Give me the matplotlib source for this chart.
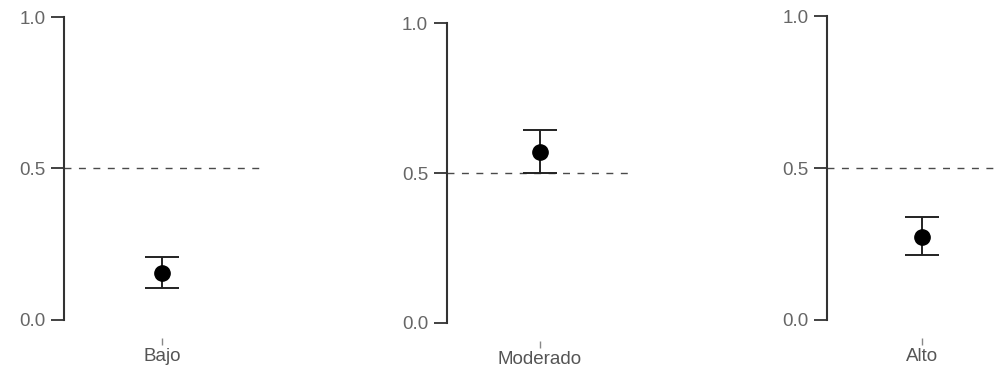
import matplotlib
matplotlib.use("Agg")
import matplotlib.pyplot as plt

categories = ["Bajo", "Moderado", "Alto"]
means = [0.154, 0.570, 0.273]
lower = [0.106, 0.500, 0.214]
upper = [0.209, 0.643, 0.339]
yticks = [0.0, 0.5, 1.0]
ytick_labels = ["0.0", "0.5", "1.0"]
chance = 0.5

# panel rectangles in figure fractions (left, bottom, width, height)
rects = [
    (0.0642, 0.0938, 0.1966, 0.8606),
    (0.4483, 0.0858, 0.1866, 0.8525),
    (0.8295, 0.0933, 0.1906, 0.8630),
]

plt.rcParams["font.family"] = ["Liberation Sans", "DejaVu Sans"]

fig = plt.figure(figsize=(9.97, 3.73), dpi=100)

for i, cat in enumerate(categories):
    ax = fig.add_axes(rects[i])
    ax.axhline(chance, color="#4a4a4a", lw=1.0, ls=(0, (5, 5.4)), zorder=1)
    ax.errorbar([cat], [means[i]],
                yerr=[[means[i] - lower[i]], [upper[i] - means[i]]],
                fmt="o", color="black", ms=11, elinewidth=1.4,
                ecolor="#222222", capsize=12, capthick=1.4, zorder=3)
    ax.set_xlim(-0.5, 0.5)
    ax.set_ylim(-0.06, 1.0)
    ax.set_yticks(yticks)
    ax.set_yticklabels(ytick_labels)

    for side in ["top", "right", "bottom"]:
        ax.spines[side].set_visible(False)
    ax.spines["left"].set_bounds(0, 1)
    ax.spines["left"].set_color("#333333")
    ax.spines["left"].set_linewidth(1.5)

    ax.tick_params(axis="y", length=9.5, width=1.3, color="#333333",
                   labelcolor="#666666", labelsize=13.5, pad=4)
    ax.tick_params(axis="x", length=5, width=1.0, color="#888888",
                   labelcolor="#555555", labelsize=13.5, pad=2)
    ax.patch.set_alpha(0)

fig.savefig("out.png", dpi=100)
